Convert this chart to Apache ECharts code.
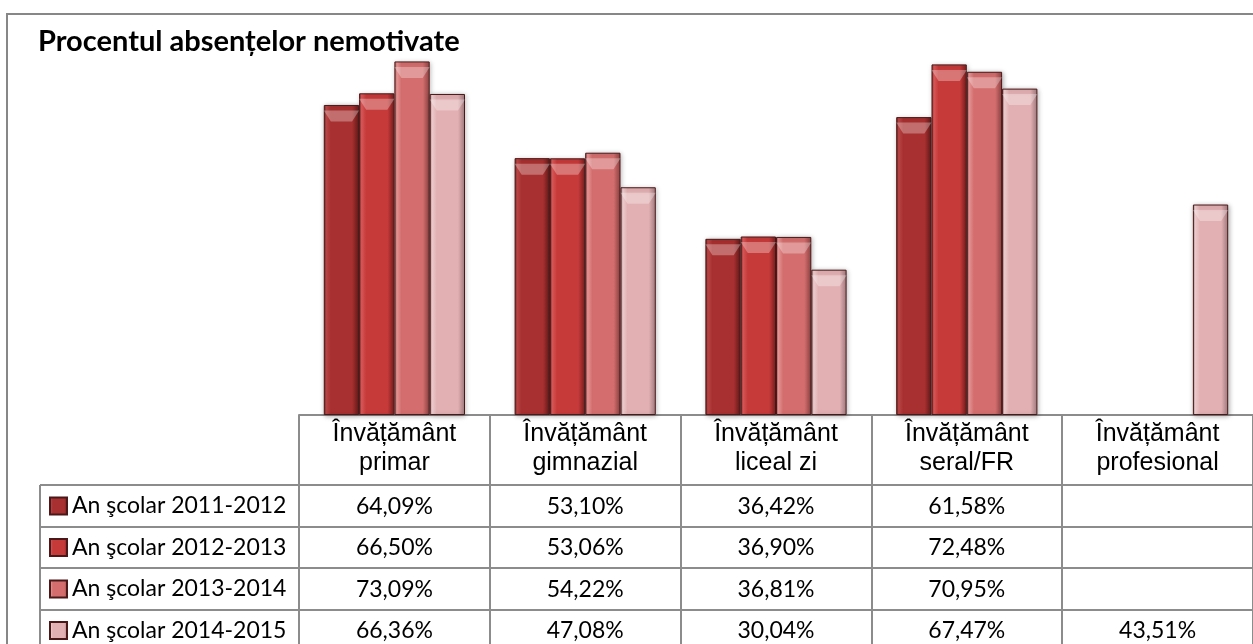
<!DOCTYPE html>
<html>
<head>
<meta charset="utf-8">
<script src="https://cdn.jsdelivr.net/npm/echarts@6/dist/echarts.min.js"></script>
<style>
  html, body { margin: 0; padding: 0; background: #fff; }
  #chart { width: 1253px; height: 644px; }
</style>
</head>
<body>
<div id="chart"></div>
<script>
// categorii si valori (%)
var categories = ['Învățământ\nprimar', 'Învățământ\ngimnazial', 'Învățământ\nliceal zi', 'Învățământ\nseral/FR', 'Învățământ\nprofesional'];
var seriesNames = ['An şcolar 2011-2012', 'An şcolar 2012-2013', 'An şcolar 2013-2014', 'An şcolar 2014-2015'];
var an2011 = [64.09, 53.10, 36.42, 61.58, null];
var an2012 = [66.50, 53.06, 36.90, 72.48, null];
var an2013 = [73.09, 54.22, 36.81, 70.95, null];
var an2014 = [66.36, 47.08, 30.04, 67.47, 43.51];
var values = [an2011, an2012, an2013, an2014];

// [margine, lumina, baza, umbra]
var colors = [
    ['#6e1c1c', '#c04848', '#a83030', '#7e2222'],
    ['#8a2424', '#e05a5a', '#c73a3a', '#962828'],
    ['#9c4848', '#ee9a9a', '#d46e6e', '#a85252'],
    ['#a88286', '#f6d4d6', '#e2b0b2', '#b88e92']
];

function fmt(v) {
    if (v == null) return ' ';
    return v.toFixed(2).replace('.', ',') + '%';
}

var chart = echarts.init(document.getElementById('chart'));

var series = [];
values.forEach(function (arr, i) {
    var c = colors[i];
    series.push({
        name: seriesNames[i],
        type: 'bar',
        data: arr,
        barGap: 0,
        barCategoryGap: '26%',
        itemStyle: {
            color: new echarts.graphic.LinearGradient(0, 0, 1, 0, [
                { offset: 0, color: c[0] },
                { offset: 0.07, color: c[1] },
                { offset: 0.2, color: c[2] },
                { offset: 0.8, color: c[2] },
                { offset: 0.93, color: c[3] },
                { offset: 1, color: c[0] }
            ]),
            borderColor: '#4a1818',
            borderWidth: 1,
            shadowColor: 'rgba(0,0,0,0.3)',
            shadowBlur: 5,
            shadowOffsetX: 1,
            shadowOffsetY: 1
        }
    });
});
// bizou pe capatul coloanelor
values.forEach(function (arr, i) {
    series.push({
        name: seriesNames[i],
        type: 'pictorialBar',
        data: arr,
        barGap: 0,
        barCategoryGap: '26%',
        symbol: 'path://M0,0 L20,0 L16,5 L4,5 Z',
        symbolKeepAspect: false,
        symbolPosition: 'end',
        symbolSize: ['100%', 11],
        symbolOffset: [0, '50%'],
        z: 3,
        silent: true,
        itemStyle: { color: 'rgba(255,255,255,0.3)' }
    });
});

var line = { stroke: '#8c8c8c', lineWidth: 2 };
var rowLines = [485, 527, 568, 610];

var graphics = [
    { type: 'rect', shape: { x: 7, y: 14, width: 1300, height: 700 }, style: { fill: 'none', stroke: '#878787', lineWidth: 2 }, silent: true },
    { type: 'line', shape: { x1: 40, y1: 485, x2: 40, y2: 700 }, style: line, silent: true }
];
rowLines.forEach(function (y) {
    graphics.push({ type: 'line', shape: { x1: 40, y1: y, x2: 1300, y2: y }, style: line, silent: true });
});

chart.setOption({
    animation: false,
    color: ['#a83030', '#c73a3a', '#d46e6e', '#e2b0b2'],
    title: {
        text: 'Procentul absențelor nemotivate',
        left: 33,
        top: 22,
        textStyle: { fontFamily: 'Lato, "Noto Sans", sans-serif', fontSize: 29, fontWeight: 'bold', color: '#000' }
    },
    legend: {
        orient: 'vertical',
        left: 49,
        top: 494,
        height: 200,
        padding: 0,
        itemWidth: 17,
        itemHeight: 17,
        itemGap: 17.5,
        icon: 'rect',
        selectedMode: false,
        data: seriesNames,
        textStyle: { fontFamily: 'Lato, "Noto Sans", sans-serif', fontSize: 23, lineHeight: 24, color: '#000' }
    },
    grid: { left: 299, top: 28, width: 972, bottom: 229 },
    xAxis: {
        type: 'category',
        data: categories,
        axisLine: { lineStyle: { color: '#8c8c8c', width: 2 } },
        axisTick: { show: true, interval: 0, length: 240, lineStyle: { color: '#8c8c8c', width: 2 } },
        axisLabel: {
            interval: 0,
            margin: 5,
            formatter: function (val, idx) {
                var parts = val.split('\n');
                var out = '{h|' + parts[0] + '}\n{h|' + parts[1] + '}\n{s| }';
                values.forEach(function (arr) {
                    out += '\n{v|' + fmt(arr[idx]) + '}';
                });
                return out;
            },
            rich: {
                h: { fontFamily: '"Liberation Sans", Arial, sans-serif', fontSize: 25, lineHeight: 29, color: '#000' },
                s: { fontSize: 4, lineHeight: 7.5 },
                v: { fontFamily: 'Lato, "Noto Sans", sans-serif', fontSize: 23, lineHeight: 41.5, color: '#000' }
            }
        }
    },
    yAxis: {
        type: 'value',
        min: 0,
        max: 80,
        show: false,
        splitLine: { show: false }
    },
    graphic: graphics,
    series: series
});
</script>
</body>
</html>
